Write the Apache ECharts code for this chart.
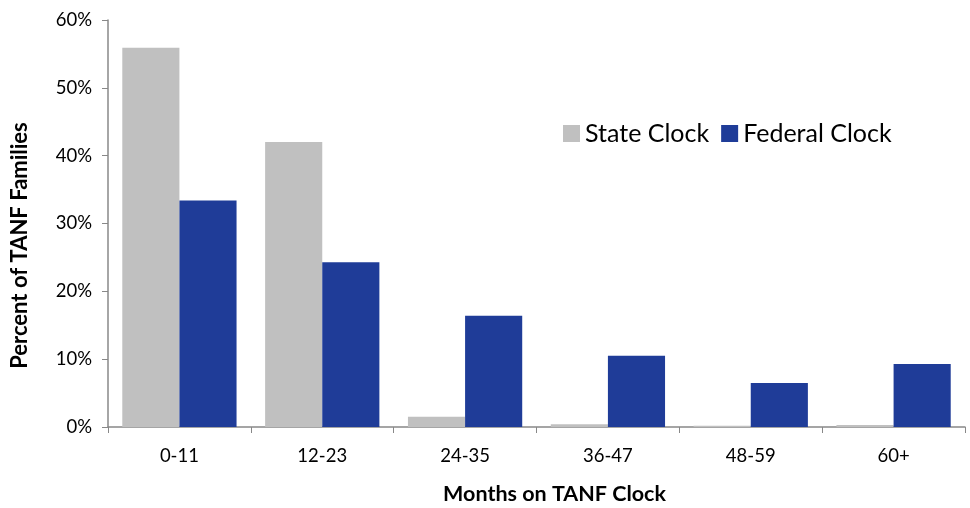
<!DOCTYPE html>
<html><head><meta charset="utf-8">
<script src="https://cdn.jsdelivr.net/npm/echarts@6/dist/echarts.min.js"></script>
<style>html,body{margin:0;padding:0;background:#fff}#c{width:970px;height:508px}</style>
</head><body><div id="c"></div>
<script>
const categories = ['0-11','12-23','24-35','36-47','48-59','60+'];
const stateClock = [55.9, 42.0, 1.5, 0.4, 0.2, 0.3];
const federalClock = [33.4, 24.3, 16.4, 10.5, 6.5, 9.3];
const yTicks = [0,10,20,30,40,50,60];
const FONT = 'Lato';
const chart = echarts.init(document.getElementById('c'));
chart.setOption({
  animation:false,
  textStyle:{fontFamily:FONT},
  grid:{left:108,right:5,top:20,bottom:81,containLabel:false,outerBoundsMode:'none'},
  legend:{
    data:['State Clock','Federal Clock'],
    left:558, top:116, itemWidth:17, itemHeight:17, itemGap:12, icon:'rect',
    textStyle:{fontFamily:FONT,fontSize:25,color:'#000'}
  },
  xAxis:{
    type:'category', data:categories,
    name:'Months on TANF Clock', nameLocation:'middle', nameGap:56,
    nameTextStyle:{fontFamily:FONT,fontWeight:'bold',fontSize:21.5,color:'#000',padding:[0,0,0,36]},
    axisLine:{lineStyle:{color:'#888',width:1.5}},
    axisTick:{show:true,alignWithLabel:false,length:6,lineStyle:{color:'#888'}},
    axisLabel:{fontFamily:FONT,fontSize:18.5,color:'#000',margin:20}
  },
  yAxis:{
    type:'value', min:yTicks[0], max:yTicks[yTicks.length-1], interval:10,
    name:'Percent of TANF Families', nameLocation:'middle', nameGap:77,
    nameTextStyle:{fontFamily:FONT,fontWeight:'bold',fontSize:22,color:'#000',padding:[0,44,0,0]},
    axisLine:{show:true,lineStyle:{color:'#888',width:1.5}},
    axisTick:{show:true,length:6,lineStyle:{color:'#888'}},
    splitLine:{show:false},
    axisLabel:{fontFamily:FONT,fontSize:18.5,color:'#000',margin:16,formatter:v=>v+'%'}
  },
  series:[
    {name:'State Clock',type:'bar',data:stateClock,barCategoryGap:'20%',barGap:'0%',itemStyle:{color:'#c0c0c0'}},
    {name:'Federal Clock',type:'bar',data:federalClock,itemStyle:{color:'#1f3c98'}}
  ]
});
</script></body></html>
